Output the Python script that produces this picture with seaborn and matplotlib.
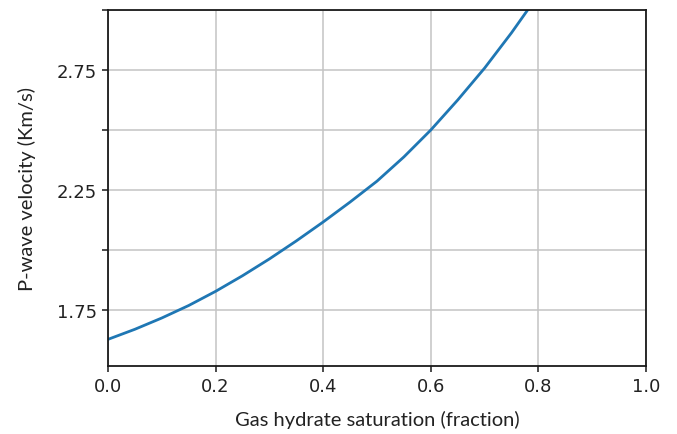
import matplotlib
matplotlib.use("Agg")
import matplotlib.pyplot as plt
import seaborn as sns
import pandas as pd

# P-wave velocity versus gas hydrate saturation
saturation = [0.0, 0.05, 0.1, 0.15, 0.2, 0.25, 0.3, 0.35, 0.4, 0.45,
              0.5, 0.55, 0.6, 0.65, 0.7, 0.75, 0.78]
velocity = [1.628, 1.670, 1.717, 1.769, 1.828, 1.893, 1.963, 2.038, 2.117,
            2.200, 2.287, 2.388, 2.500, 2.625, 2.758, 2.905, 3.000]

x_ticks = [0.0, 0.2, 0.4, 0.6, 0.8, 1.0]
x_tick_labels = ["0.0", "0.2", "0.4", "0.6", "0.8", "1.0"]
y_ticks = [1.75, 2.0, 2.25, 2.5, 2.75, 3.0]
y_tick_labels = ["1.75", "", "2.25", "", "2.75", ""]

df = pd.DataFrame({"saturation": saturation, "velocity": velocity})

sns.set_theme(style="whitegrid")
plt.rcParams["font.family"] = ["DejaVu Sans"]

fig = plt.figure(figsize=(6.77, 4.35), dpi=100)
ax = fig.add_axes([0.1595, 0.1563, 0.7947, 0.8184])

sns.lineplot(data=df, x="saturation", y="velocity", ax=ax,
             color="#1f77b4", linewidth=2.0)

ax.set_xlim(0.0, 1.0)
ax.set_ylim(1.517, 3.0)
ax.set_xticks(x_ticks)
ax.set_xticklabels(x_tick_labels)
ax.set_yticks(y_ticks)
ax.set_yticklabels(y_tick_labels)

ax.grid(True, color="#c4c4c4", linewidth=1.1)
ax.set_facecolor("white")
for side in ["left", "right", "top", "bottom"]:
    ax.spines[side].set_visible(True)
    ax.spines[side].set_color("#1a1a1a")
    ax.spines[side].set_linewidth(1.3)

ax.tick_params(axis="both", which="major", direction="out", length=4,
               width=1.1, color="#1a1a1a", labelsize=13,
               labelcolor="#222222", pad=4, bottom=True, left=True)

label_font = dict(family=["Lato", "DejaVu Sans"], size=14.5, color="#222222")
ax.set_xlabel("Gas hydrate saturation (fraction)", fontdict=label_font, labelpad=11)
ax.set_ylabel("P-wave velocity (Km/s)", fontdict=label_font, labelpad=15)

fig.savefig("out.png", dpi=100, facecolor="white")
